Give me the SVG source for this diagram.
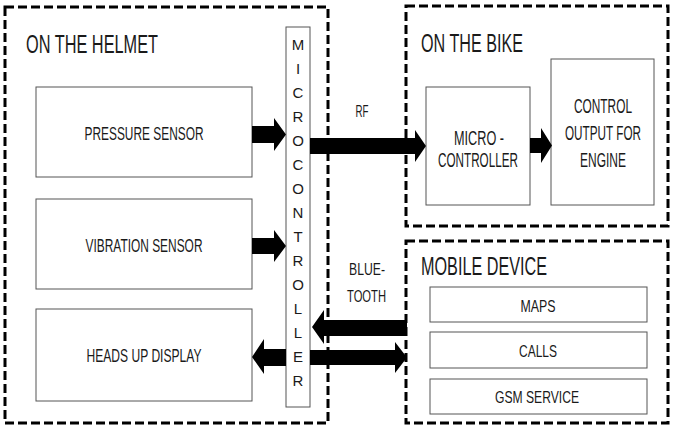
<svg xmlns="http://www.w3.org/2000/svg" width="674" height="429" viewBox="0 0 674 429">
<style>
.zone{fill:none;stroke:#000;stroke-width:3;stroke-dasharray:9 4}
.box{fill:#fff;stroke:#555;stroke-width:1}
text{font-family:"Liberation Sans Narrow","Liberation Sans",Arial,sans-serif;fill:#1a1a1a}
.t{font-size:26px}
.l{font-size:19px;text-anchor:middle}
.b{font-size:20px;text-anchor:middle}
.s{font-size:17px;text-anchor:middle}
.mc{font-size:15px;text-anchor:middle}
.arr{fill:#000}
</style>
<rect width="674" height="429" fill="#fff"/>
<g id="helmet">
<rect class="zone" x="5" y="7" width="323" height="416"/>
<text class="t" x="26" y="53" textLength="132" lengthAdjust="spacingAndGlyphs">ON THE HELMET</text>
</g>
<g id="bike">
<rect class="zone" x="406" y="6" width="262" height="220"/>
<text class="t" x="421" y="52" textLength="102" lengthAdjust="spacingAndGlyphs">ON THE BIKE</text>
</g>
<g id="mobile">
<rect class="zone" x="406" y="241" width="262" height="182"/>
<text class="t" x="421" y="275" textLength="126" lengthAdjust="spacingAndGlyphs">MOBILE DEVICE</text>
</g>
<g id="pressure">
<rect class="box" x="36" y="87" width="216" height="90"/>
<text class="l" x="144" y="140" textLength="119" lengthAdjust="spacingAndGlyphs">PRESSURE SENSOR</text>
</g>
<g id="vibration">
<rect class="box" x="36" y="199" width="216" height="90"/>
<text class="l" x="144" y="252" textLength="117" lengthAdjust="spacingAndGlyphs">VIBRATION SENSOR</text>
</g>
<g id="hud">
<rect class="box" x="36" y="309" width="216" height="92"/>
<text class="l" x="144" y="362" textLength="115" lengthAdjust="spacingAndGlyphs">HEADS UP DISPLAY</text>
</g>
<g id="microcontroller">
<rect class="box" x="286" y="27" width="24" height="380"/>
<text class="mc" x="298" y="50">M</text>
<text class="mc" x="298" y="74">I</text>
<text class="mc" x="298" y="98">C</text>
<text class="mc" x="298" y="122">R</text>
<text class="mc" x="298" y="146">O</text>
<text class="mc" x="298" y="170">C</text>
<text class="mc" x="298" y="194">O</text>
<text class="mc" x="298" y="218">N</text>
<text class="mc" x="298" y="242">T</text>
<text class="mc" x="298" y="266">R</text>
<text class="mc" x="298" y="290">O</text>
<text class="mc" x="298" y="314">L</text>
<text class="mc" x="298" y="338">L</text>
<text class="mc" x="298" y="362">E</text>
<text class="mc" x="298" y="386">R</text>
</g>
<g id="bike-mcu">
<rect class="box" x="426" y="87" width="104" height="118"/>
<text class="b" x="479" y="145" textLength="50" lengthAdjust="spacingAndGlyphs">MICRO -</text>
<text class="b" x="478" y="167" textLength="80" lengthAdjust="spacingAndGlyphs">CONTROLLER</text>
</g>
<g id="control-output">
<rect class="box" x="551" y="59" width="103" height="146"/>
<text class="b" x="603" y="113" textLength="58" lengthAdjust="spacingAndGlyphs">CONTROL</text>
<text class="b" x="603" y="140" textLength="76" lengthAdjust="spacingAndGlyphs">OUTPUT FOR</text>
<text class="b" x="603" y="167" textLength="46" lengthAdjust="spacingAndGlyphs">ENGINE</text>
</g>
<g id="maps">
<rect class="box" x="430" y="287" width="217" height="35"/>
<text class="s" x="538" y="312" textLength="35" lengthAdjust="spacingAndGlyphs">MAPS</text>
</g>
<g id="calls">
<rect class="box" x="430" y="332" width="217" height="36"/>
<text class="s" x="538" y="357" textLength="38" lengthAdjust="spacingAndGlyphs">CALLS</text>
</g>
<g id="gsm">
<rect class="box" x="430" y="379" width="217" height="35"/>
<text class="s" x="537" y="403" textLength="84" lengthAdjust="spacingAndGlyphs">GSM SERVICE</text>
</g>
<g id="connectors">
<polygon class="arr" points="252,126 274,126 274,118 286,134.5 274,151 274,143 252,143"/>
<polygon class="arr" points="252,238 274,238 274,230 286,246 274,262 274,254 252,254"/>
<polygon class="arr" points="286,349 264,349 264,339 252,357 264,374 264,366 286,366"/>
<polygon class="arr" points="310,138 415,138 415,130 426,146 415,162 415,154 310,154"/>
<polygon class="arr" points="530,138 541,138 541,128 552,145.5 541,163 541,153 530,153"/>
<polygon class="arr" points="407,320 324,320 324,310 312,327 324,344 324,336 407,336"/>
<polygon class="arr" points="310,350 395,350 395,342 407,357.5 395,373 395,365 310,365"/>
<text class="s" x="362" y="117" textLength="13" lengthAdjust="spacingAndGlyphs">RF</text>
<text class="s" x="367" y="275" textLength="36" lengthAdjust="spacingAndGlyphs">BLUE-</text>
<text class="s" x="366.5" y="302" textLength="39" lengthAdjust="spacingAndGlyphs">TOOTH</text>
</g>
</svg>
